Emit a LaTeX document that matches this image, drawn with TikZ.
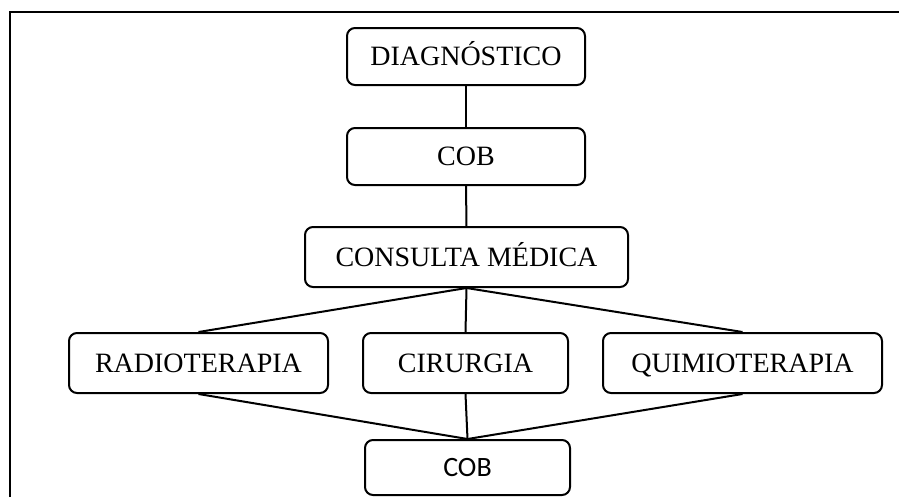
\documentclass[tikz,border=0pt]{standalone}
\usepackage{fontspec}
\setmainfont{Liberation Serif}
\newfontfamily\cobfont{Carlito}

\begin{document}
\begin{tikzpicture}[x=0.75pt, y=-0.75pt, line width=1.5pt,
    stepbox/.style={rectangle, rounded corners=6pt, draw, line width=1.5pt, font=\fontsize{21}{24}\selectfont, inner sep=0pt, text height=13.9pt, text depth=0pt}]

                \useasboundingbox (0,0) rectangle (899,497);

                % Frame
                \draw[line width=2pt] (10,497) -- (10,12) -- (899,12);

                % Nodes
                \node (diag) [stepbox, minimum width=178.5pt, minimum height=42.75pt] at (466,56.5) {DIAGNÓSTICO};
                \node (cob1) [stepbox, minimum width=178.5pt, minimum height=42.75pt] at (466,156.5) {COB};
                \node (consulta) [stepbox, minimum width=242.25pt, minimum height=45pt] at (466.5,257) {CONSULTA MÉDICA};
                \node (radio) [stepbox, minimum width=194.25pt, minimum height=45pt] at (198.5,363) {RADIOTERAPIA};
                \node (cirurgia) [stepbox, minimum width=153.75pt, minimum height=45pt] at (465.5,363) {CIRURGIA};
                \node (quimio) [stepbox, minimum width=209.25pt, minimum height=45pt] at (742.5,363) {QUIMIOTERAPIA};
                \node (cob2) [stepbox, minimum width=153.75pt, minimum height=41.25pt, text height=13.5pt, font=\cobfont\fontsize{21}{24}\selectfont] at (467.5,467.5) {COB};

                % Connections
                \draw (diag) -- (cob1);
                \draw (cob1) -- (consulta);
                \draw (consulta.south) -- (radio.north);
                \draw (consulta.south) -- (cirurgia.north);
                \draw (consulta.south) -- (quimio.north);
                \draw (radio.south) -- (cob2.north);
                \draw (cirurgia.south) -- (cob2.north);
                \draw (quimio.south) -- (cob2.north);

            \end{tikzpicture}
\end{document}
